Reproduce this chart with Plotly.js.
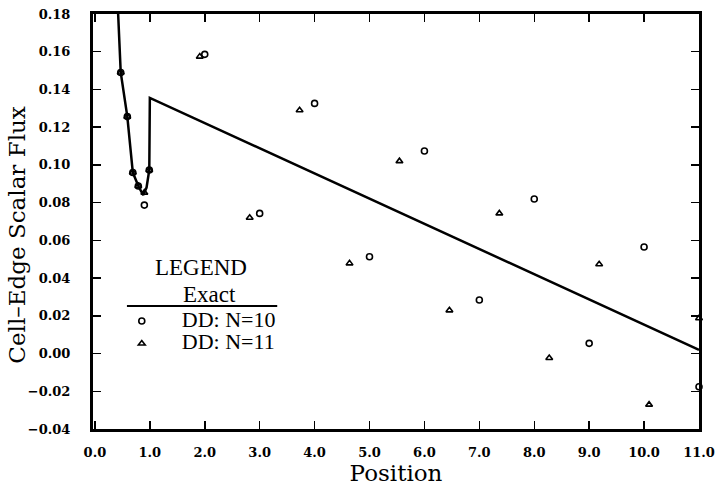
<!DOCTYPE html>
<html>
<head>
<meta charset="utf-8">
<script src="https://cdn.plot.ly/plotly-3.0.1.min.js"></script>
<style>html,body{margin:0;padding:0;background:#fff;}</style>
</head>
<body>
<div id="chart" style="width:723px;height:492px;"></div>
<script>
// Exact solution curve
const exactX = [0.40, 0.425, 0.47, 0.59, 0.69, 0.79, 0.88, 0.94, 0.99, 1.0, 11.0];
const exactY = [0.195, 0.180, 0.149, 0.1256, 0.096, 0.0888, 0.084, 0.088, 0.0973, 0.1355, 0.002];

// Diamond-difference, N=10
const dd10X = [0.47, 0.59, 0.69, 0.79, 0.90, 0.99, 2, 3, 4, 5, 6, 7, 8, 9, 10, 11];
const dd10Y = [0.149, 0.1256, 0.096, 0.0888, 0.0787, 0.0973, 0.1586, 0.0743, 0.1326, 0.0513, 0.1074, 0.0284, 0.0819, 0.0054, 0.0565, -0.0176];

// Diamond-difference, N=11
const dd11X = [0.47, 0.59, 0.69, 0.79, 0.90, 0.99, 1.909, 2.818, 3.727, 4.636, 5.545, 6.455, 7.364, 8.273, 9.182, 10.091, 11];
const dd11Y = [0.149, 0.1256, 0.096, 0.0888, 0.0853, 0.0973, 0.1574, 0.0720, 0.1290, 0.0478, 0.1020, 0.0229, 0.0743, -0.0024, 0.0473, -0.0271, 0.0187];

const xTickVals = [0,1,2,3,4,5,6,7,8,9,10,11];
const yTickVals = [-0.04,-0.02,0,0.02,0.04,0.06,0.08,0.10,0.12,0.14,0.16,0.18];

const tickFont = {family: 'DejaVu Serif', size: 13, color: '#000', weight: 'bold'};
const legFamily = 'Liberation Serif';

const traces = [
  {x: exactX, y: exactY, mode: 'lines', name: 'Exact', showlegend: false,
   line: {color: '#000', width: 2.5}},
  {x: dd10X, y: dd10Y, mode: 'markers', name: '<span style="font-size:22px">DD: N=10</span>',
   cliponaxis: false,
   marker: {symbol: 'circle-open', size: 6, color: '#000', line: {width: 1.6, color: '#000'}}},
  {x: dd11X, y: dd11Y, mode: 'markers', name: '<span style="font-size:22px">DD: N=11</span>',
   cliponaxis: false,
   marker: {symbol: 'triangle-up-open', size: 6, color: '#000', line: {width: 1.6, color: '#000'}}}
];

const layout = {
  width: 723, height: 492,
  margin: {l: 93, r: 24, t: 14, b: 63},
  paper_bgcolor: '#fff', plot_bgcolor: '#fff',
  showlegend: true,
  legend: {
    x: 0.0145, xanchor: 'left', y: 0.2994, yanchor: 'top',
    bgcolor: 'rgba(0,0,0,0)', borderwidth: 0,
    itemwidth: 70,
    font: {family: legFamily, size: 15, color: '#000'}
  },
  xaxis: {
    range: [-0.035, 11], tickvals: xTickVals, tickformat: '.1f',
    showgrid: false, zeroline: false,
    showline: true, linewidth: 3, linecolor: '#000', mirror: 'ticks',
    ticks: 'inside', ticklen: 8, tickwidth: 1.5, tickcolor: '#000',
    ticklabelstandoff: 9,
    tickfont: tickFont,
    title: {text: 'Position', font: {family: 'DejaVu Serif', size: 23, color: '#000'}, standoff: 6}
  },
  yaxis: {
    range: [-0.04, 0.18], tickvals: yTickVals, tickformat: '.2f',
    showgrid: false, zeroline: false,
    showline: true, linewidth: 3, linecolor: '#000', mirror: 'ticks',
    ticks: 'inside', ticklen: 8, tickwidth: 1.5, tickcolor: '#000',
    ticklabelstandoff: 17,
    tickfont: tickFont
  },
  annotations: [
    {xref: 'paper', yref: 'paper', x: -0.126, y: 0.4675, text: 'Cell–Edge Scalar Flux', showarrow: false,
     textangle: -90, xanchor: 'center', yanchor: 'middle', borderpad: 0,
     font: {family: 'DejaVu Serif', size: 23, color: '#000'}},
    {xref: 'paper', yref: 'paper', x: 0.1788, y: 0.388, text: 'LEGEND', showarrow: false,
     xanchor: 'center', yanchor: 'middle', font: {family: legFamily, size: 23, color: '#000'}},
    {xref: 'paper', yref: 'paper', x: 0.192, y: 0.3229, text: 'Exact', showarrow: false,
     xanchor: 'center', yanchor: 'middle', font: {family: legFamily, size: 23, color: '#000'}}
  ],
  shapes: [
    {type: 'line', xref: 'paper', yref: 'paper', x0: 0.056, x1: 0.304, y0: 0.2964, y1: 0.2964,
     line: {color: '#000', width: 2}}
  ]
};

Plotly.newPlot('chart', traces, layout, {displayModeBar: false, staticPlot: true});
</script>
</body>
</html>
